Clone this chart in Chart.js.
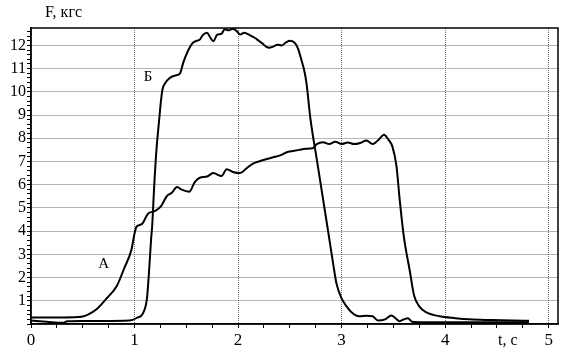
<!DOCTYPE html>
<html>
<head>
<meta charset="utf-8">
<script src="https://cdn.jsdelivr.net/npm/chart.js@4"></script>
<style>
  html, body { margin: 0; padding: 0; background: #fff; }
  canvas { display: block; }
</style>
</head>
<body>
<canvas id="forceChart" width="570" height="358"></canvas>
<script>
// Curve A: time (s) and force (kgf)
const aTime = [0, 0.3, 0.5, 0.55, 0.63, 0.73, 0.83, 0.9, 0.97, 1.0, 1.02, 1.07, 1.13, 1.2, 1.26, 1.31, 1.36, 1.41, 1.45, 1.53, 1.58, 1.63, 1.7, 1.76, 1.84, 1.89, 1.95, 2.02, 2.08, 2.14, 2.2, 2.27, 2.34, 2.4, 2.47, 2.53, 2.59, 2.65, 2.72, 2.76, 2.82, 2.88, 2.94, 3.0, 3.06, 3.12, 3.18, 3.24, 3.3, 3.36, 3.41, 3.45, 3.49, 3.53, 3.56, 3.6, 3.66, 3.7, 3.75, 3.82, 3.95, 4.1, 4.23, 4.45, 4.65, 4.81];
const aForce = [0.28, 0.28, 0.32, 0.4, 0.62, 1.1, 1.65, 2.4, 3.2, 3.9, 4.2, 4.3, 4.75, 4.87, 5.1, 5.5, 5.65, 5.9, 5.8, 5.7, 6.1, 6.3, 6.35, 6.5, 6.37, 6.67, 6.55, 6.5, 6.7, 6.9, 7.0, 7.1, 7.18, 7.25, 7.4, 7.45, 7.5, 7.55, 7.57, 7.75, 7.83, 7.75, 7.85, 7.75, 7.82, 7.75, 7.8, 7.9, 7.75, 7.95, 8.15, 7.95, 7.65, 6.8, 5.4, 3.8, 2.25, 1.23, 0.76, 0.5, 0.33, 0.25, 0.2, 0.17, 0.15, 0.14];

// Curve Б
const bTime = [0, 0.15, 0.31, 0.35, 0.5, 0.7, 0.95, 1.03, 1.08, 1.12, 1.14, 1.16, 1.17, 1.19, 1.21, 1.24, 1.255, 1.27, 1.3, 1.34, 1.39, 1.44, 1.47, 1.52, 1.56, 1.6, 1.63, 1.66, 1.7, 1.73, 1.76, 1.8, 1.84, 1.87, 1.91, 1.95, 1.99, 2.02, 2.06, 2.11, 2.16, 2.2, 2.23, 2.27, 2.3, 2.34, 2.38, 2.42, 2.46, 2.5, 2.55, 2.58, 2.61, 2.64, 2.66, 2.7, 2.76, 2.82, 2.88, 2.92, 2.95, 3.0, 3.05, 3.09, 3.17, 3.24, 3.3, 3.35, 3.42, 3.48, 3.52, 3.56, 3.6, 3.64, 3.68, 3.8, 4.0, 4.3, 4.6, 4.81];
const bForce = [0.15, 0.1, 0.05, 0.12, 0.13, 0.13, 0.15, 0.28, 0.45, 1.1, 2.25, 3.66, 4.2, 5.95, 7.4, 8.9, 9.6, 10.1, 10.4, 10.6, 10.7, 10.8, 11.25, 11.8, 12.1, 12.2, 12.25, 12.45, 12.55, 12.35, 12.18, 12.47, 12.5, 12.7, 12.65, 12.72, 12.6, 12.47, 12.55, 12.45, 12.33, 12.2, 12.1, 11.95, 11.9, 11.95, 12.03, 12.0, 12.12, 12.2, 12.1, 11.85, 11.4, 10.9, 10.4, 8.8, 7.1, 5.4, 3.7, 2.55, 1.75, 1.1, 0.75, 0.53, 0.33, 0.35, 0.33, 0.15, 0.2, 0.37, 0.25, 0.12, 0.2, 0.25, 0.1, 0.08, 0.07, 0.08, 0.08, 0.07];

const serif = "'Liberation Serif', 'Times New Roman', serif";
const isWhole = v => Math.abs(v - Math.round(v)) < 1e-6;
const toPoints = (xs, ys) => xs.map((x, i) => ({ x: x, y: ys[i] }));

// frame, axis titles and curve names
const decorPlugin = {
    id: 'decor',
    afterDraw(chart) {
        const { ctx, chartArea: area, scales } = chart;
        ctx.save();
        ctx.strokeStyle = '#000';
        ctx.lineWidth = 1.5;
        ctx.strokeRect(area.left, area.top, area.right - area.left, area.bottom - area.top);

        ctx.fillStyle = '#000';
        ctx.textBaseline = 'alphabetic';
        ctx.font = '16px ' + serif;
        ctx.fillText('F, кгс', 45, 17);
        ctx.fillText('t, c', 498, 345);

        ctx.font = '15px ' + serif;
        ctx.fillText('А', scales.x.getPixelForValue(0.65), scales.y.getPixelForValue(2.4));
        ctx.fillText('Б', scales.x.getPixelForValue(1.09), scales.y.getPixelForValue(10.45));
        ctx.restore();
    }
};

new Chart(document.getElementById('forceChart'), {
    type: 'line',
    data: {
        datasets: [
            { label: 'А', data: toPoints(aTime, aForce) },
            { label: 'Б', data: toPoints(bTime, bForce) }
        ]
    },
    options: {
        responsive: false,
        animation: false,
        devicePixelRatio: 1,
        layout: { padding: { left: 0, top: 28, right: 12, bottom: 0 } },
        elements: {
            line: { borderColor: '#000', borderWidth: 2, cubicInterpolationMode: 'monotone', fill: false },
            point: { radius: 0 }
        },
        plugins: {
            legend: { display: false },
            tooltip: { enabled: false }
        },
        scales: {
            x: {
                type: 'linear',
                min: 0,
                max: 5.09,
                afterFit: scale => { scale.height = 34; },
                ticks: {
                    stepSize: 0.25,
                    includeBounds: false,
                    autoSkip: false,
                    maxRotation: 0,
                    padding: 2,
                    color: '#000',
                    font: { family: serif, size: 17 },
                    callback: v => isWhole(v) ? String(Math.round(v)) : ''
                },
                grid: {
                    color: c => (c.tick && isWhole(c.tick.value) && c.tick.value > 0) ? '#6a6a6a' : 'rgba(0,0,0,0)',
                    tickColor: '#000',
                    tickLength: 4,
                    lineWidth: 1
                },
                border: { color: '#000', width: 1.5, dash: [1, 1] }
            },
            y: {
                type: 'linear',
                min: 0,
                max: 12.75,
                afterFit: scale => { scale.width = 31; },
                ticks: {
                    stepSize: 0.2,
                    includeBounds: false,
                    autoSkip: false,
                    padding: 1,
                    color: '#000',
                    font: { family: serif, size: 16 },
                    callback: v => (isWhole(v) && Math.round(v) > 0) ? String(Math.round(v)) : ''
                },
                grid: {
                    color: c => (c.tick && isWhole(c.tick.value) && c.tick.value > 0) ? '#6a6a6a' : 'rgba(0,0,0,0)',
                    tickColor: '#000',
                    tickLength: 4,
                    lineWidth: 1
                },
                border: { color: '#000', width: 1.5, dash: [1, 1] }
            }
        }
    },
    plugins: [decorPlugin]
});
</script>
</body>
</html>
